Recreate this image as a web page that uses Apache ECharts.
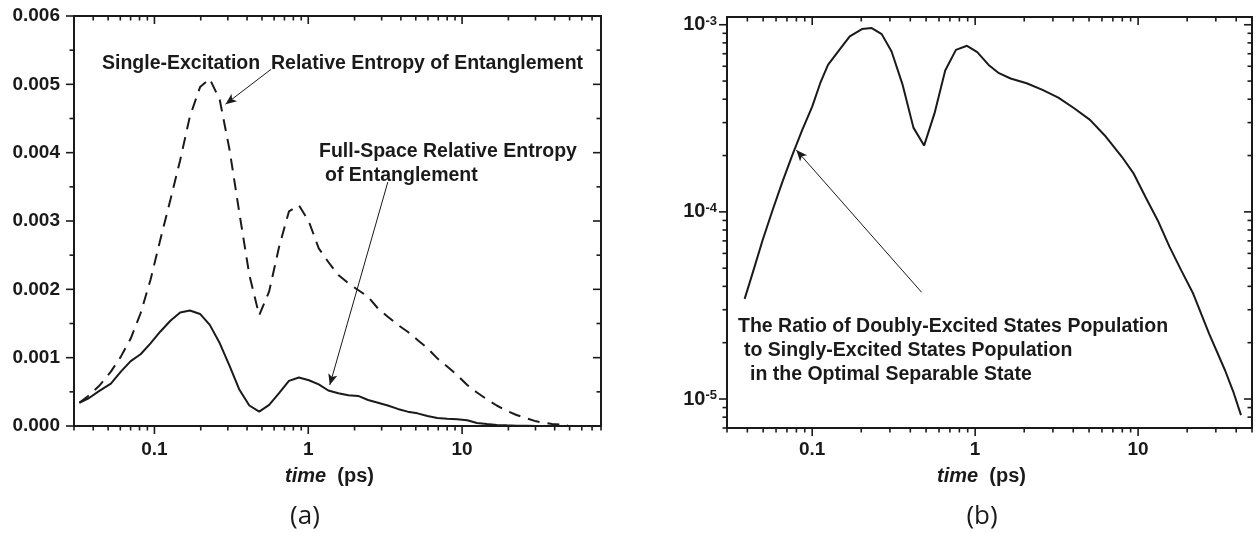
<!DOCTYPE html>
<html>
<head>
<meta charset="utf-8">
<script src="https://cdn.jsdelivr.net/npm/echarts@6/dist/echarts.min.js"></script>
<style>
html,body{margin:0;padding:0;background:#fff;}
#chart{width:1255px;height:533px;}
</style>
</head>
<body>
<div id="chart"></div>
<script>
// ---------- data (panel a) ----------
const timeA = [0.0325, 0.0376, 0.0436, 0.0521, 0.0605, 0.0701, 0.0813, 0.0943, 0.109, 0.127,
  0.147, 0.170, 0.198, 0.229, 0.266, 0.308, 0.357, 0.414, 0.480, 0.557,
  0.646, 0.749, 0.869, 1.01, 1.17, 1.35, 1.57, 1.82, 2.11, 2.45,
  2.84, 3.29, 3.82, 4.43, 5.13, 5.95, 6.90, 8.00, 9.28, 10.8,
  12.5, 14.5, 16.8, 19.5, 22.6, 26.2, 30.3, 38.5, 48.7];
const singleExcitationREE = [3.4e-4, 4.5e-4, 5.85e-4, 7.95e-4, 1.015e-3, 1.28e-3, 1.65e-3, 2.14e-3, 2.72e-3, 3.31e-3,
  3.89e-3, 4.53e-3, 4.96e-3, 5.08e-3, 4.77e-3, 4.04e-3, 3.11e-3, 2.21e-3, 1.62e-3, 1.97e-3,
  2.62e-3, 3.14e-3, 3.23e-3, 2.99e-3, 2.60e-3, 2.40e-3, 2.21e-3, 2.09e-3, 1.99e-3, 1.89e-3,
  1.72e-3, 1.60e-3, 1.48e-3, 1.38e-3, 1.26e-3, 1.14e-3, 0.99e-3, 0.87e-3, 0.746e-3, 0.60e-3,
  0.49e-3, 0.39e-3, 0.30e-3, 0.224e-3, 0.161e-3, 0.112e-3, 0.068e-3, 0.029e-3, 0.010e-3];
const fullSpaceREE = [3.4e-4, 4.1e-4, 5.1e-4, 6.2e-4, 7.95e-4, 9.5e-4, 1.05e-3, 1.21e-3, 1.38e-3, 1.54e-3,
  1.66e-3, 1.69e-3, 1.64e-3, 1.48e-3, 1.21e-3, 0.88e-3, 0.53e-3, 0.30e-3, 0.21e-3, 0.31e-3,
  0.48e-3, 0.66e-3, 0.71e-3, 0.67e-3, 0.61e-3, 0.52e-3, 0.48e-3, 0.45e-3, 0.44e-3, 0.38e-3,
  0.34e-3, 0.30e-3, 0.25e-3, 0.21e-3, 0.185e-3, 0.146e-3, 0.117e-3, 0.105e-3, 0.10e-3, 0.085e-3,
  0.045e-3, 0.028e-3, 0.016e-3, 0.010e-3, 0.005e-3, 0.003e-3, 0.001e-3, 0.0005e-3, 0.0002e-3];

// ---------- data (panel b) ----------
const timeB = [0.0385, 0.0436, 0.0496, 0.0571, 0.0657, 0.0755, 0.0869, 0.100, 0.112, 0.125,
  0.148, 0.170, 0.202, 0.232, 0.267, 0.307, 0.359, 0.418, 0.486, 0.563,
  0.655, 0.762, 0.891, 1.03, 1.21, 1.40, 1.65, 2.07, 2.59, 3.24,
  4.05, 5.07, 6.35, 7.95, 9.40, 11.1, 13.2, 15.6, 18.4, 21.8,
  27.3, 34.2, 38.3, 42.8];
const doublyToSinglyRatio = [3.43e-5, 4.87e-5, 7.05e-5, 1.02e-4, 1.45e-4, 2.01e-4, 2.74e-4, 3.65e-4, 4.87e-4, 6.1e-4,
  7.41e-4, 8.66e-4, 9.48e-4, 9.6e-4, 8.91e-4, 7.2e-4, 4.77e-4, 2.82e-4, 2.26e-4, 3.36e-4,
  5.69e-4, 7.34e-4, 7.72e-4, 7.14e-4, 6.1e-4, 5.51e-4, 5.16e-4, 4.87e-4, 4.49e-4, 4.08e-4,
  3.58e-4, 3.1e-4, 2.52e-4, 1.97e-4, 1.6e-4, 1.2e-4, 9.0e-5, 6.5e-5, 4.87e-5, 3.65e-5,
  2.23e-5, 1.42e-5, 1.1e-5, 8.2e-6];

// ---------- ticks ----------
const xTicksA = [0.03,0.04,0.05,0.06,0.07,0.08,0.09,0.1,0.2,0.3,0.4,0.5,0.6,0.7,0.8,0.9,1,2,3,4,5,6,7,8,9,10,20,30,40,50,60,70,80];
const xTicksB = [0.03,0.04,0.05,0.06,0.07,0.08,0.09,0.1,0.2,0.3,0.4,0.5,0.6,0.7,0.8,0.9,1,2,3,4,5,6,7,8,9,10,20,30,40,50];
const yTicksA = [0,0.0005,0.001,0.0015,0.002,0.0025,0.003,0.0035,0.004,0.0045,0.005,0.0055,0.006];
const yTicksB = [7e-6,8e-6,9e-6,1e-5,2e-5,3e-5,4e-5,5e-5,6e-5,7e-5,8e-5,9e-5,1e-4,2e-4,3e-4,4e-4,5e-4,6e-4,7e-4,8e-4,9e-4,1e-3];

// ---------- annotations ----------
const arrowSingle = [[0.573, 5.22e-3], [0.290, 4.71e-3]];
const arrowFull = [[3.29, 3.57e-3], [1.38, 0.60e-3]];
const arrowRatio = [[0.469, 3.72e-5], [0.0799, 2.14e-4]];

const FONT = '"Liberation Sans", Arial, Helvetica, sans-serif';
const INK = '#1a1a1a';

const isPow10 = v => Math.abs(Math.log10(v) - Math.round(Math.log10(v))) < 1e-6;
const isMilli = v => Math.abs(v * 1000 - Math.round(v * 1000)) < 1e-6;

function tickSeries(xi, yi, dir, vals, ref, isMajor) {
  return {
    type: 'custom', xAxisIndex: xi, yAxisIndex: yi, silent: true, clip: false, z: 5,
    data: vals.map(v => dir === 'x' ? [v, ref] : [ref, v]),
    renderItem(params, api) {
      const cs = params.coordSys;
      const v = api.value(dir === 'x' ? 0 : 1);
      const p = api.coord([api.value(0), api.value(1)]);
      const len = isMajor(v) ? 8 : 4.5;
      const st = {stroke: INK, lineWidth: 1.6};
      if (dir === 'x') {
        const x = p[0], b = cs.y + cs.height, t = cs.y;
        return {type: 'group', children: [
          {type: 'line', shape: {x1: x, y1: b, x2: x, y2: b + len}, style: st},
          {type: 'line', shape: {x1: x, y1: t, x2: x, y2: t + len}, style: st}]};
      }
      const y = p[1], l = cs.x, r = cs.x + cs.width;
      return {type: 'group', children: [
        {type: 'line', shape: {x1: l - len, y1: y, x2: l, y2: y}, style: st},
        {type: 'line', shape: {x1: r - len, y1: y, x2: r, y2: y}, style: st}]};
    }
  };
}

function arrowMark(a) {
  return {
    silent: true, animation: false,
    symbol: ['none', 'arrow'], symbolSize: [7, 11],
    label: {show: false},
    lineStyle: {type: 'solid', width: 1, color: INK},
    emphasis: {disabled: true},
    data: [[{coord: a[0]}, {coord: a[1]}]]
  };
}

const axisLabelBase = {fontSize: 19, fontWeight: 'bold', color: INK, fontFamily: FONT};
const nameStyle = {
  fontSize: 20, fontWeight: 'bold', color: INK, fontFamily: FONT, padding: [0, 16, 0, 0],
  rich: {i: {fontSize: 20, fontWeight: 'bold', fontStyle: 'italic', color: INK, fontFamily: FONT}}
};
const logFmt = v => isPow10(v) ? String(Number(v.toPrecision(6))) : '';

const chart = echarts.init(document.getElementById('chart'));
chart.setOption({
  animation: false,
  backgroundColor: '#ffffff',
  grid: [
    {left: 74, top: 16, width: 527, height: 410, show: true, borderColor: INK, borderWidth: 2, backgroundColor: 'transparent'},
    {left: 727, top: 17, width: 526, height: 411, show: true, borderColor: INK, borderWidth: 2, backgroundColor: 'transparent'}
  ],
  xAxis: [
    {type: 'log', gridIndex: 0, min: 0.03, max: 80, logBase: 10,
     axisLine: {show: false}, axisTick: {show: false}, splitLine: {show: false}, minorTick: {show: false},
     axisLabel: Object.assign({margin: 14, formatter: logFmt}, axisLabelBase),
     name: '{i|time}  (ps)', nameLocation: 'middle', nameGap: 40, nameTextStyle: nameStyle},
    {type: 'log', gridIndex: 1, min: 0.03, max: 50, logBase: 10,
     axisLine: {show: false}, axisTick: {show: false}, splitLine: {show: false}, minorTick: {show: false},
     axisLabel: Object.assign({margin: 12, formatter: logFmt}, axisLabelBase),
     name: '{i|time}  (ps)', nameLocation: 'middle', nameGap: 38, nameTextStyle: nameStyle}
  ],
  yAxis: [
    {type: 'value', gridIndex: 0, min: 0, max: 0.006, interval: 0.001,
     axisLine: {show: false}, axisTick: {show: false}, splitLine: {show: false},
     axisLabel: Object.assign({margin: 14, formatter: v => v.toFixed(3)}, axisLabelBase)},
    {type: 'log', gridIndex: 1, min: 7e-6, max: 1.1e-3, logBase: 10,
     axisLine: {show: false}, axisTick: {show: false}, splitLine: {show: false}, minorTick: {show: false},
     axisLabel: Object.assign({}, axisLabelBase, {margin: 10,
       formatter: v => isPow10(v) ? '{b|10}{s|' + Math.round(Math.log10(v)) + '}' : '',
       rich: {
         b: {fontSize: 20, fontWeight: 'bold', color: INK, fontFamily: FONT, lineHeight: 20, padding: [8, 0, 0, 0], verticalAlign: 'bottom'},
         s: {fontSize: 13, fontWeight: 'bold', color: INK, fontFamily: FONT, lineHeight: 13, verticalAlign: 'top'}
       }})}
  ],
  series: [
    {type: 'line', xAxisIndex: 0, yAxisIndex: 0, symbol: 'none', silent: true, z: 3,
     lineStyle: {color: INK, width: 2, type: [12, 8]},
     data: timeA.map((t, i) => [t, singleExcitationREE[i]]),
     markLine: arrowMark(arrowSingle)},
    {type: 'line', xAxisIndex: 0, yAxisIndex: 0, symbol: 'none', silent: true, z: 3,
     lineStyle: {color: INK, width: 2},
     data: timeA.map((t, i) => [t, fullSpaceREE[i]]),
     markLine: arrowMark(arrowFull)},
    {type: 'line', xAxisIndex: 1, yAxisIndex: 1, symbol: 'none', silent: true, z: 3,
     lineStyle: {color: INK, width: 2},
     data: timeB.map((t, i) => [t, doublyToSinglyRatio[i]]),
     markLine: arrowMark(arrowRatio)},
    tickSeries(0, 0, 'x', xTicksA, 0, isPow10),
    tickSeries(0, 0, 'y', yTicksA, 0.03, isMilli),
    tickSeries(1, 1, 'x', xTicksB, 7e-6, isPow10),
    tickSeries(1, 1, 'y', yTicksB, 0.03, isPow10)
  ],
  graphic: [
    {type: 'text', silent: true, z: 10, style: {text: 'Single-Excitation  Relative Entropy of Entanglement', x: 102, y: 64, verticalAlign: 'middle', font: 'bold 19.5px ' + FONT, fill: INK}},
    {type: 'text', silent: true, z: 10, style: {text: 'Full-Space Relative Entropy', x: 319, y: 152, verticalAlign: 'middle', font: 'bold 19.5px ' + FONT, fill: INK}},
    {type: 'text', silent: true, z: 10, style: {text: 'of Entanglement', x: 325, y: 176, verticalAlign: 'middle', font: 'bold 19.5px ' + FONT, fill: INK}},
    {type: 'text', silent: true, z: 10, style: {text: 'The Ratio of Doubly-Excited States Population', x: 738, y: 327, verticalAlign: 'middle', font: 'bold 19.5px ' + FONT, fill: INK}},
    {type: 'text', silent: true, z: 10, style: {text: 'to Singly-Excited States Population', x: 744, y: 351, verticalAlign: 'middle', font: 'bold 19.5px ' + FONT, fill: INK}},
    {type: 'text', silent: true, z: 10, style: {text: 'in the Optimal Separable State', x: 750, y: 375, verticalAlign: 'middle', font: 'bold 19.5px ' + FONT, fill: INK}},
    {type: 'text', silent: true, z: 10, style: {text: '(a)', x: 305, y: 517, align: 'center', verticalAlign: 'middle', font: '26px "Open Sans", "Noto Sans", sans-serif', fill: INK}},
    {type: 'text', silent: true, z: 10, style: {text: '(b)', x: 982, y: 517, align: 'center', verticalAlign: 'middle', font: '26px "Open Sans", "Noto Sans", sans-serif', fill: INK}}
  ]
});
</script>
</body>
</html>
